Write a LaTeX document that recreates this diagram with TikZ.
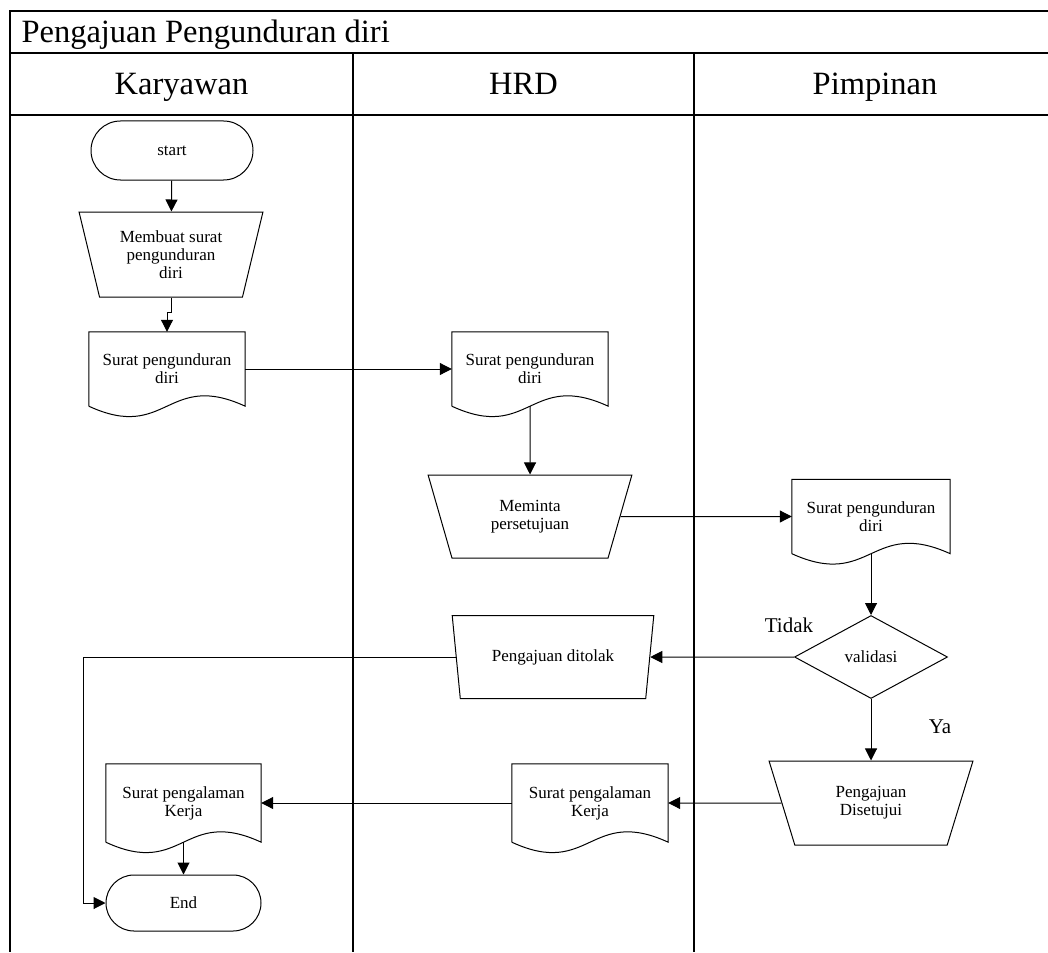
\documentclass[tikz,border=0pt]{standalone}
\usepackage{fontspec}
\setmainfont{Liberation Serif}
\usetikzlibrary{shapes.geometric,shapes.misc,arrows.meta,calc}
\newcommand\docwave[1]{%
  \draw[line width=1pt] (#1.south west) -- (#1.north west) -- (#1.north east) -- (#1.south east)
    .. controls ($(#1.south)+(0,-36)$) and ($(#1.south)+(0,36)$) .. (#1.south west);}
\begin{document}
\begin{tikzpicture}[x=1pt,y=-1pt,
  lane/.style={line width=2.3pt},
  conn/.style={line width=1pt, -{Triangle[length=12pt,width=12pt]}},
  txt/.style={font=\fontsize{17}{18}\selectfont, align=center},
  term/.style={rounded rectangle, draw, line width=1pt, txt, inner sep=0pt},
  manop/.style={trapezium, trapezium stretches=true, shape border rotate=180, draw, line width=1pt, txt, inner sep=0pt},
  docbox/.style={rectangle, txt, inner sep=0pt, minimum width=156pt, minimum height=74pt},
  decision/.style={diamond, draw, line width=1pt, txt, inner sep=0pt, minimum width=153pt, minimum height=83pt},
  hdr/.style={font=\fontsize{32.5}{36}\selectfont, anchor=base},
  lbl/.style={font=\fontsize{21}{22}\selectfont}
]
\useasboundingbox (0,0) rectangle (1048,952);
% frame
\draw[lane] (1048,11) -- (10,11) -- (10,952);
\draw[lane] (10,53) -- (1048,53);
\draw[lane] (10,115) -- (1048,115);
\draw[lane] (353,53) -- (353,952);
\draw[lane] (694,53) -- (694,952);
\node[hdr, anchor=base west] (title) at (18,43) {Pengajuan Pengunduran diri};
\node[hdr] (hK) at (181.5,95) {Karyawan};
\node[hdr] (hH) at (523.5,95) {HRD};
\node[hdr] (hP) at (875,95) {Pimpinan};

% nodes
\node[term, minimum width=162pt, minimum height=59pt] (start) at (172,150.5) {start};
\node[manop, minimum width=184pt, minimum height=85pt, trapezium angle=73] (make) at (171,254.5) {Membuat surat\\pengunduran\\diri};
\node[docbox] (doc1) at (167,369) {Surat pengunduran\\diri};
\node[docbox] (doc2) at (530,369) {Surat pengunduran\\diri};
\node[manop, minimum width=204pt, minimum height=83pt, trapezium angle=70] (ask) at (530,516.5) {Meminta\\persetujuan};
\node[docbox, minimum width=158pt] (doc3) at (871,516.5) {Surat pengunduran\\diri};
\node[decision] (valid) at (871,657) {validasi};
\node[manop, minimum width=202pt, minimum height=83pt, trapezium angle=71] (reject) at (553,657) {Pengajuan ditolak};
\node[manop, minimum width=205pt, minimum height=84pt, trapezium angle=70] (approve) at (871,803) {Pengajuan\\Disetujui};
\node[docbox, minimum height=78pt] (doc5) at (590,803) {Surat pengalaman\\Kerja};
\node[docbox, minimum width=155pt, minimum height=78pt] (doc4) at (183.5,803) {Surat pengalaman\\Kerja};
\node[term, minimum width=155pt, minimum height=56pt] (finish) at (183.5,903) {End};
\node[lbl] (tidak) at (789,625) {Tidak};
\node[lbl] (ya) at (940,727) {Ya};
\coordinate (rail) at (83,0);

\docwave{doc1}
\docwave{doc2}
\docwave{doc3}
\docwave{doc4}
\docwave{doc5}

% connectors
\draw[conn] (start) -- (make);
\draw[conn] (make) -- ++(0,58) -| (doc1);
\draw[conn] (doc1) -- (doc2);
\draw[conn] (doc2) -- (ask);
\draw[conn] (ask) -- (doc3);
\draw[conn] (doc3) -- (valid);
\draw[conn] (valid) -- (reject);
\draw[conn] (reject) -| (rail |- finish) -- (finish);
\draw[conn] (valid) -- (approve);
\draw[conn] (approve) -- (doc5);
\draw[conn] (doc5) -- (doc4);
\draw[conn] (doc4) -- (finish);
\end{tikzpicture}
\end{document}
